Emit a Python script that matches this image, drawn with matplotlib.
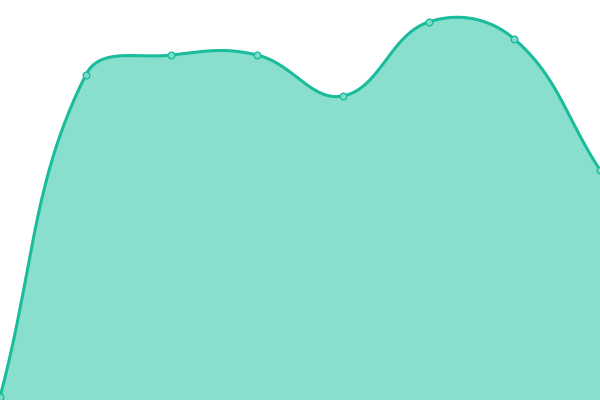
import numpy as np
import matplotlib
matplotlib.use("Agg")
import matplotlib.pyplot as plt

# values (height in px above the bottom edge)
labels = ["1", "2", "3", "4", "5", "6", "7", "8"]
values = [3, 325, 345, 345, 304, 378, 361, 230]

LINE = "#1abc9c"
FILL = "#88dfce"
W, H = 600, 400


def spline(px, py, tension=0.4, steps=40):
    """Chart.js style bezier spline through the points (pixel space)."""
    n = len(px)
    cps = []
    for i in range(n):
        p = np.array([px[max(i - 1, 0)], py[max(i - 1, 0)]])
        c = np.array([px[i], py[i]])
        nx = np.array([px[min(i + 1, n - 1)], py[min(i + 1, n - 1)]])
        d01 = np.hypot(*(c - p))
        d12 = np.hypot(*(nx - c))
        tot = d01 + d12 if d01 + d12 > 0 else 1
        s01, s12 = d01 / tot, d12 / tot
        cps.append((c - tension * s01 * (nx - p), c + tension * s12 * (nx - p)))
    xs, ys = [], []
    t = np.linspace(0, 1, steps)
    for i in range(n - 1):
        p0 = np.array([px[i], py[i]])
        p1 = cps[i][1]
        p2 = cps[i + 1][0]
        p3 = np.array([px[i + 1], py[i + 1]])
        b = ((1 - t) ** 3)[:, None] * p0 + (3 * (1 - t) ** 2 * t)[:, None] * p1 \
            + (3 * (1 - t) * t ** 2)[:, None] * p2 + (t ** 3)[:, None] * p3
        xs.extend(b[:, 0])
        ys.extend(b[:, 1])
    return np.array(xs), np.array(ys)


fig = plt.figure(figsize=(6, 4), dpi=100)
ax = fig.add_axes([0, 0, 1, 1])
x = np.arange(len(values))
ax.set_xlim(0, len(values) - 1)
ax.set_ylim(0, H)

# smooth in pixel space, then back to data units
sx = W / (len(values) - 1)
cx, cy = spline(x * sx, np.array(values, dtype=float))
cx = cx / sx

ax.fill_between(cx, cy, 0, color=FILL, linewidth=0)
ax.plot(cx, cy, color=LINE, linewidth=2.2, solid_capstyle="round")
ax.plot(x, values, "o", markersize=4.8, markerfacecolor="#7fdcc8",
        markeredgecolor=LINE, markeredgewidth=1)

ax.axis("off")
fig.savefig("out.png", dpi=100)
